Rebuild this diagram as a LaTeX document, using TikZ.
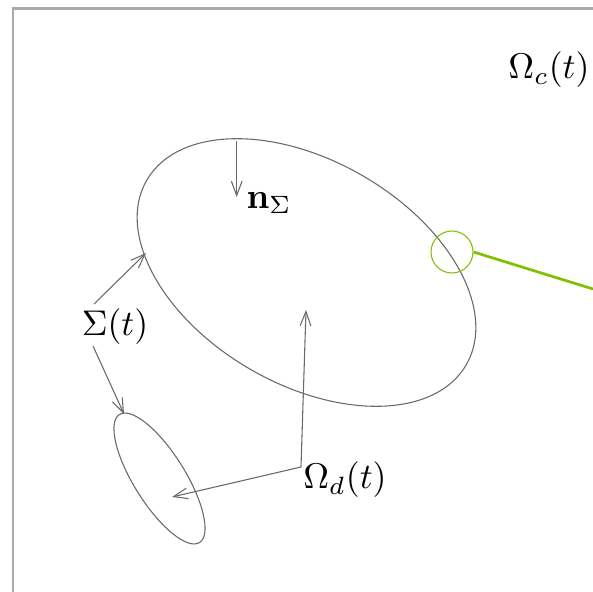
\documentclass[tikz,border=0pt]{standalone}
\usetikzlibrary{arrows.meta}
\definecolor{framegray}{RGB}{170,170,170}
\definecolor{linegray}{RGB}{105,105,105}
\definecolor{limegreen}{RGB}{128,192,0}
\begin{document}
\begin{tikzpicture}[x=0.28pt,y=-0.28pt,
  thinline/.style={draw=linegray,line width=0.3pt},
  arr/.style={thinline,-{Straight Barb[length=4pt,width=3pt]}},
  lbl/.style={inner sep=0pt,text=black}]
\useasboundingbox (0,0) rectangle (593,592);
% frame
\draw[framegray,line width=0.7pt] (13,592) -- (13,8.5) -- (593,8.5);
% ellipses
\draw[thinline,rotate around={-30:(306.5,272.5)}] (306.5,272.5) ellipse [x radius=184.5, y radius=111.9];
\draw[thinline,rotate around={-58:(159.5,478.5)}] (159.5,478.5) ellipse [x radius=75.5, y radius=25.7];
% labels
\node[lbl] (oc) at (549,70) {$\Omega_c(t)$};
\node[lbl] (n) at (269,203) {$\mathbf{n}_\Sigma$};
\node[lbl] (s) at (115,327) {$\Sigma(t)$};
\node[lbl] (od) at (345,480) {$\Omega_d(t)$};
% coordinates
\coordinate (ntop) at (236.7,141);
\coordinate (ntip) at (236.7,197);
\coordinate (s1a) at (94,304);
\coordinate (s1b) at (146,253);
\coordinate (s2a) at (93,346);
\coordinate (s2b) at (124,414);
\coordinate (odtop) at (306,310);
\coordinate (odc) at (301,467);
\coordinate (odtip) at (172,497);
\coordinate (gend) at (593,289);
% connectors
\draw[arr] (ntop) -- (ntip);
\draw[arr] (s1a) -- (s1b);
\draw[arr] (s2a) -- (s2b);
\draw[thinline,{Straight Barb[length=4pt,width=3pt]}-{Straight Barb[length=4pt,width=3pt]}] (odtop) -- (odc) -- (odtip);
% green marker
\node[draw=limegreen,line width=0.3pt,circle,minimum size=11.76pt,inner sep=0pt] (gc) at (452,252) {};
\draw[limegreen,line width=0.75pt] (gc.east) -- (gend);
\end{tikzpicture}
\end{document}
